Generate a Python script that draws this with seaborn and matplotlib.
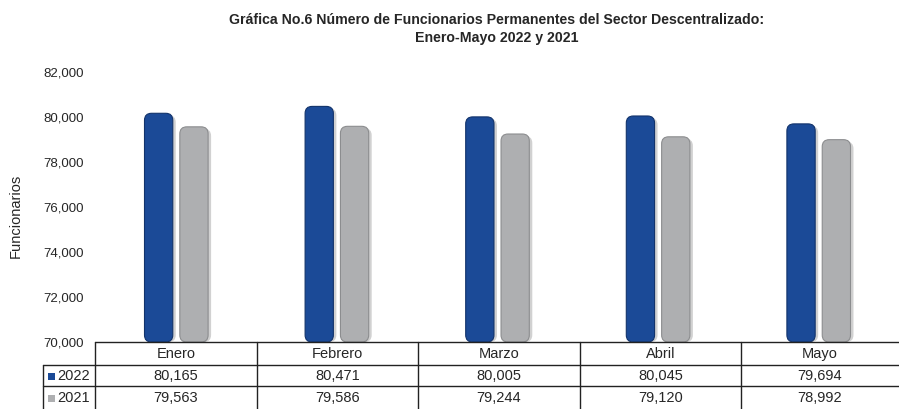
import matplotlib
matplotlib.use("Agg")
import matplotlib.pyplot as plt
import seaborn as sns
import pandas as pd
from matplotlib.lines import Line2D
from matplotlib.patches import FancyBboxPatch, Rectangle
from matplotlib.ticker import FuncFormatter

meses = ["Enero", "Febrero", "Marzo", "Abril", "Mayo"]
valores_2022 = [80165, 80471, 80005, 80045, 79694]
valores_2021 = [79563, 79586, 79244, 79120, 78992]
series = ["2022", "2021"]
colores = {"2022": "#1B4A97", "2021": "#AEAFB1"}
bordes = {"2022": "#12336B", "2021": "#8C8D8F"}

df = pd.DataFrame({
    "mes": meses * 2,
    "valor": valores_2022 + valores_2021,
    "anio": ["2022"] * 5 + ["2021"] * 5,
})

sns.set_style("white")
plt.rcParams["font.family"] = ["Liberation Sans", "DejaVu Sans"]

W, H = 899, 409
fig = plt.figure(figsize=(W / 100, H / 100), dpi=100)

def fx(px):
    return px / W

def fy(py):
    return 1 - py / H

ax_left, ax_right, ax_top, ax_bot = 96, 899, 72, 342
ymin, ymax = 70000, 82000
ax = fig.add_axes([fx(ax_left), fy(ax_bot), fx(ax_right - ax_left), (ax_bot - ax_top) / H])

sns.barplot(data=df, x="mes", y="valor", hue="anio", hue_order=series, order=meses,
            palette=colores, width=0.44, gap=0.2, ax=ax, legend=False, saturation=1)

ax.set_ylim(ymin, ymax)
ax.set_xlim(-0.5, 4.5)

# replace bars with rounded versions starting at the axis floor
xs_per_px = 5 / (ax_right - ax_left)
ys_per_px = (ymax - ymin) / (ax_bot - ax_top)
aspect = ys_per_px / xs_per_px
bars = list(ax.patches)
for i, p in enumerate(bars):
    x = p.get_x()
    w = p.get_width()
    top = p.get_y() + p.get_height()
    y = ymin
    h = top - ymin
    s = series[i // 5]
    p.set_visible(False)
    sh = FancyBboxPatch((x + 3 * xs_per_px, y), w, h - 2 * ys_per_px,
                        boxstyle=f"round,pad=0,rounding_size={7 * xs_per_px}",
                        mutation_aspect=aspect, facecolor="#000000", alpha=0.18,
                        edgecolor="none", clip_on=False, zorder=1)
    ax.add_patch(sh)
    fb = FancyBboxPatch((x, y), w, h,
                        boxstyle=f"round,pad=0,rounding_size={7 * xs_per_px}",
                        mutation_aspect=aspect, facecolor=colores[s],
                        edgecolor=bordes[s], linewidth=0.8, clip_on=False, zorder=2)
    ax.add_patch(fb)

ax.yaxis.set_major_formatter(FuncFormatter(lambda v, pos: f"{int(v):,}"))
ax.set_yticks(range(ymin, ymax + 1, 2000))
ax.tick_params(axis="y", length=0, labelsize=9.5, pad=9)
ax.set_xticks([])
ax.set_xlabel("")
ax.set_ylabel("")
for sp in ax.spines.values():
    sp.set_visible(False)

fig.text(fx(16), fy(216), "Funcionarios", rotation=90, ha="center", va="center", fontsize=10.5)

fig.text(fx(497), fy(20), "Gráfica No.6 Número de Funcionarios Permanentes del Sector Descentralizado:",
         ha="center", va="center", fontsize=10.2, fontweight="bold")
fig.text(fx(497), fy(38), "Enero-Mayo 2022 y 2021", ha="center", va="center",
         fontsize=10.2, fontweight="bold")

# data table
lc = "#222222"
def hline(y, x0, x1):
    fig.add_artist(Line2D([fx(x0), fx(x1)], [fy(y), fy(y)], color=lc, lw=1.0,
                          transform=fig.transFigure, zorder=5))

def vline(x, y0, y1):
    fig.add_artist(Line2D([fx(x), fx(x)], [fy(y0), fy(y1)], color=lc, lw=1.0,
                          transform=fig.transFigure, zorder=5))

hline(342, 95, 899)
hline(365, 43, 899)
hline(386, 43, 899)
vline(43, 365, 409)
col_edges = [95, 257, 418, 580, 741, 899]
for x in col_edges[:-1]:
    vline(x, 342, 409)

fs = 10.5
for i, m in enumerate(meses):
    cx = (col_edges[i] + col_edges[i + 1]) / 2
    fig.text(fx(cx), fy(354), m, ha="center", va="center", fontsize=fs)
    fig.text(fx(cx), fy(376), f"{valores_2022[i]:,}", ha="center", va="center", fontsize=fs)
    fig.text(fx(cx), fy(398), f"{valores_2021[i]:,}", ha="center", va="center", fontsize=fs)

for s, yrow in zip(series, [376, 398]):
    fig.add_artist(Rectangle((fx(48), fy(yrow + 3.5)), fx(7), 7 / H, facecolor=colores[s],
                             edgecolor="none", transform=fig.transFigure))
    fig.text(fx(57), fy(yrow), s, ha="left", va="center", fontsize=fs)

fig.savefig("out.png", dpi=100)
